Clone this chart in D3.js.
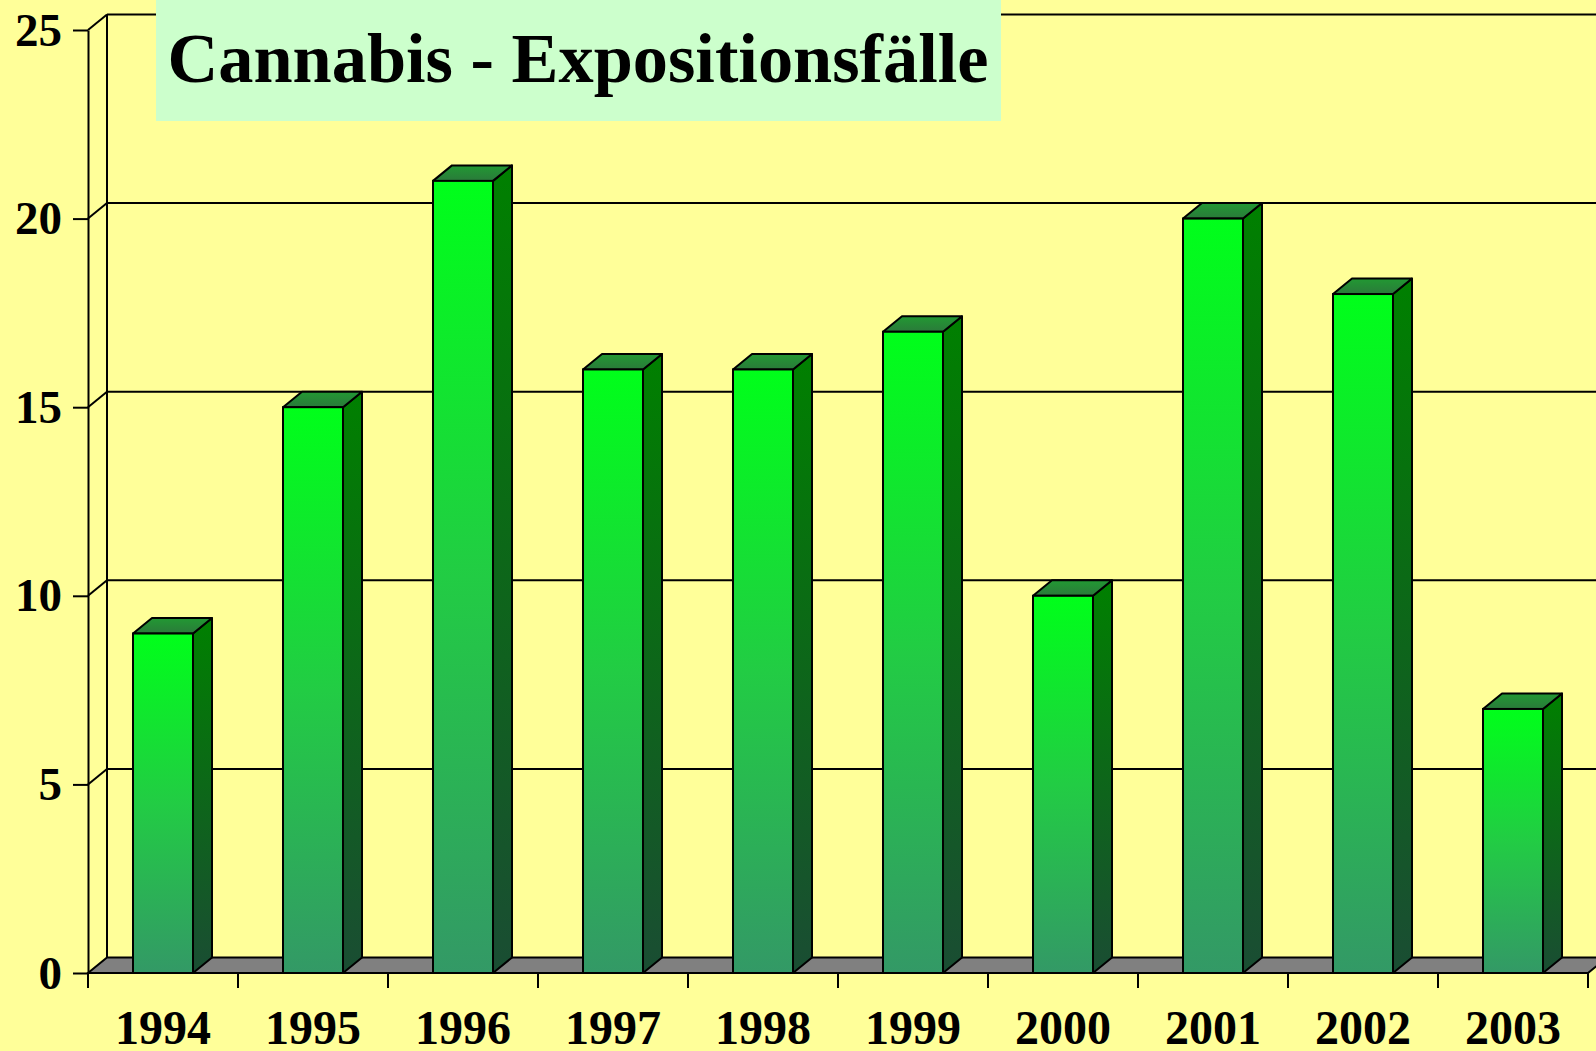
<!DOCTYPE html>
<html>
<head>
<meta charset="utf-8">
<script src="https://cdn.jsdelivr.net/npm/d3@7"></script>
<style>
  body { margin: 0; background: #FFFF99; overflow: hidden; }
  svg { display: block; }
  text { font-family: "Liberation Serif", "Times New Roman", serif; font-weight: bold; fill: #000; }
</style>
</head>
<body>
<svg id="chart" width="1596" height="1051"></svg>
<script>
// data
var years = ["1994", "1995", "1996", "1997", "1998", "1999", "2000", "2001", "2002", "2003"];
var cases = [9, 15, 21, 16, 16, 17, 10, 20, 18, 7];
var yTicks = [0, 5, 10, 15, 20, 25];
var title = "Cannabis - Expositionsfälle";

var width = 1596, height = 1051,
    plotLeft = 88, plotRight = 1588, plotBottom = 973, plotTop = 30,
    dx = 19, dy = 15.5

var svg = d3.select("#chart")

// gradients
var defs = svg.append("defs")
function grad(id, stops) {
    var g = defs.append("linearGradient").attr("id", id)
        .attr("x1", 0).attr("y1", 0).attr("x2", 0).attr("y2", 1)
    stops.forEach(function(s) {
        g.append("stop").attr("offset", s[0]).attr("stop-color", s[1])
    })
}
grad("front", [[0, "#00FF1a"], [0.5, "#22cc44"], [1, "#339966"]])
grad("side", [[0, "#008000"], [1, "#1a4d33"]])
grad("topface", [[0, "#229933"], [1, "#2a7a3a"]])

// scales
var x = d3.scaleBand().domain(years).range([plotLeft, plotRight]).paddingInner(0.6).paddingOuter(0.3)
var xEdge = d3.scaleLinear().domain([0, years.length]).range([plotLeft, plotRight])
var y = d3.scaleLinear().domain([0, 25]).range([plotBottom, plotTop])

// background
svg.append("rect").attr("width", width).attr("height", height).attr("fill", "#FFFF99")

var lineStyle = function(sel) { return sel.attr("stroke", "#000").attr("stroke-width", 2).attr("fill", "none") }

// gridlines on back wall + side wall diagonals
var grid = svg.append("g")
grid.selectAll("line.grid").data(yTicks.slice(1)).enter().append("line")
    .attr("class", "grid")
    .attr("x1", plotLeft + dx).attr("x2", width + 20)
    .attr("y1", function(d) { return y(d) - dy })
    .attr("y2", function(d) { return y(d) - dy })
    .call(lineStyle)
grid.selectAll("line.diag").data(yTicks.slice(1)).enter().append("line")
    .attr("class", "diag")
    .attr("x1", plotLeft).attr("x2", plotLeft + dx)
    .attr("y1", function(d) { return y(d) })
    .attr("y2", function(d) { return y(d) - dy })
    .call(lineStyle)
// back wall vertical
grid.append("line")
    .attr("x1", plotLeft + dx).attr("x2", plotLeft + dx)
    .attr("y1", y(25) - dy).attr("y2", y(0) - dy)
    .call(lineStyle)

// floor
svg.append("path")
    .attr("d", "M" + plotLeft + "," + y(0) + "L" + plotRight + "," + y(0) +
        "L" + (plotRight + dx) + "," + (y(0) - dy) + "L" + (plotLeft + dx) + "," + (y(0) - dy) + "Z")
    .attr("fill", "#808080").attr("stroke", "#000").attr("stroke-width", 2)

// y axis
var yAxis = svg.append("g")
    .attr("transform", "translate(" + plotLeft + ",0)")
    .call(d3.axisLeft(y).tickValues(yTicks).tickSize(15).tickSizeOuter(0).tickPadding(11))
yAxis.select(".domain").attr("stroke", "#000").attr("stroke-width", 2)
yAxis.selectAll(".tick line").attr("stroke", "#000").attr("stroke-width", 2)
yAxis.selectAll(".tick text").style("font-size", "47px").attr("font-family", null).attr("fill", "#000")

// x axis ticks at category edges
svg.append("g").selectAll("line").data(d3.range(years.length + 1)).enter().append("line")
    .attr("x1", function(i) { return xEdge(i) }).attr("x2", function(i) { return xEdge(i) })
    .attr("y1", y(0)).attr("y2", y(0) + 15)
    .call(lineStyle)

// year labels
svg.append("g").selectAll("text").data(years).enter().append("text")
    .attr("x", function(d) { return x(d) + x.bandwidth() / 2 })
    .attr("y", 1044)
    .attr("text-anchor", "middle")
    .style("font-size", "48px")
    .text(function(d) { return d })

// bars
var w = x.bandwidth()
var bars = svg.append("g").selectAll("g").data(years).enter().append("g")
bars.append("path")
    .attr("d", function(d, i) {
        var x0 = x(d) + w, y1 = y(cases[i]), y0 = y(0)
        return "M" + x0 + "," + y1 + "L" + (x0 + dx) + "," + (y1 - dy) +
            "L" + (x0 + dx) + "," + (y0 - dy) + "L" + x0 + "," + y0 + "Z"
    })
    .attr("fill", "url(#side)").attr("stroke", "#000").attr("stroke-width", 2).attr("stroke-linejoin", "round")
bars.append("path")
    .attr("d", function(d, i) {
        var x0 = x(d), y1 = y(cases[i])
        return "M" + x0 + "," + y1 + "L" + (x0 + dx) + "," + (y1 - dy) +
            "L" + (x0 + w + dx) + "," + (y1 - dy) + "L" + (x0 + w) + "," + y1 + "Z"
    })
    .attr("fill", "url(#topface)").attr("stroke", "#000").attr("stroke-width", 2).attr("stroke-linejoin", "round")
bars.append("rect")
    .attr("x", function(d) { return x(d) })
    .attr("y", function(d, i) { return y(cases[i]) })
    .attr("width", w)
    .attr("height", function(d, i) { return y(0) - y(cases[i]) })
    .attr("fill", "url(#front)").attr("stroke", "#000").attr("stroke-width", 2)

// title box
svg.append("rect")
    .attr("x", 156).attr("y", 0).attr("width", 845).attr("height", 121)
    .attr("fill", "#CCFFCC")
svg.append("text")
    .attr("x", 578).attr("y", 82)
    .attr("text-anchor", "middle")
    .attr("textLength", 821).attr("lengthAdjust", "spacingAndGlyphs")
    .style("font-size", "70px")
    .text(title)
</script>
</body>
</html>
